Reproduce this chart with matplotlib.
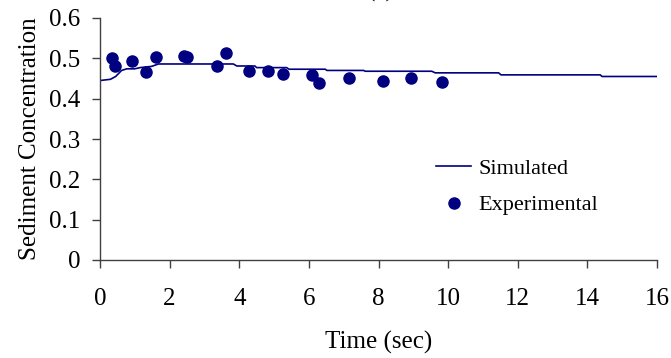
import matplotlib
matplotlib.use("Agg")
import matplotlib.pyplot as plt

plt.rcParams['font.family'] = ['Liberation Serif', 'DejaVu Serif']

# Experimental data
exp_time = [0.34, 0.43, 0.93, 1.31, 1.60, 2.41, 2.49, 3.36, 3.61, 4.29, 4.84,
            5.25, 6.08, 6.29, 7.14, 8.14, 8.94, 9.82]
exp_conc = [0.502, 0.480, 0.494, 0.465, 0.504, 0.507, 0.503, 0.480, 0.513,
            0.468, 0.469, 0.461, 0.458, 0.439, 0.450, 0.443, 0.450, 0.442]

# Simulated data
sim_time = [0.0, 0.3, 0.45, 0.62, 0.77, 1.0, 1.15, 1.48, 1.68, 3.83, 3.93,
            4.45, 4.50, 5.36, 5.43, 6.47, 6.52, 7.57, 7.62, 9.53, 9.63,
            11.45, 11.52, 14.37, 14.42, 16.0]
sim_conc = [0.445, 0.448, 0.455, 0.470, 0.474, 0.474, 0.477, 0.480, 0.486,
            0.486, 0.481, 0.481, 0.477, 0.477, 0.473, 0.473, 0.470, 0.470,
            0.468, 0.468, 0.464, 0.464, 0.459, 0.459, 0.455, 0.455]

xticks = [0, 2, 4, 6, 8, 10, 12, 14, 16]
yticks = [0, 0.1, 0.2, 0.3, 0.4, 0.5, 0.6]
ytick_labels = ['0', '0.1', '0.2', '0.3', '0.4', '0.5', '0.6']

navy = '#000080'

fig = plt.figure(figsize=(6.71, 3.58), dpi=100)
ax = fig.add_axes([100/671, 1-260/358, 557/671, 242/358])

ax.plot(sim_time, sim_conc, color=navy, lw=1.2, label='Simulated')
ax.plot(exp_time, exp_conc, 'o', color=navy, ms=8, label='Experimental')

ax.set_xlim(0, 16)
ax.set_ylim(0, 0.6)
ax.set_xticks(xticks)
ax.set_xticklabels([str(t) for t in xticks])
ax.set_yticks(yticks)
ax.set_yticklabels(ytick_labels)

for s in ['top', 'right']:
    ax.spines[s].set_visible(False)
for s in ['left', 'bottom']:
    ax.spines[s].set_color('#404040')
    ax.spines[s].set_linewidth(1.0)

ax.tick_params(axis='both', direction='out', length=6, width=1, color='#404040',
               labelsize=18)
ax.tick_params(axis='x', pad=14)
ax.tick_params(axis='y', pad=8)

ax.set_xlabel('Time (sec)', fontsize=18, labelpad=15)
ax.set_ylabel('Sediment Concentration', fontsize=18, labelpad=6)

ax.legend(loc='upper left', bbox_to_anchor=(0.603, 0.42), frameon=False,
          fontsize=16, handlelength=1.6, handletextpad=0.3, labelspacing=0.72,
          borderaxespad=0, borderpad=0)

fig.text(0.567, 1.0 + 3/358, '(c)', ha='center', va='baseline', fontsize=18)

fig.savefig('out.png', dpi=100)
